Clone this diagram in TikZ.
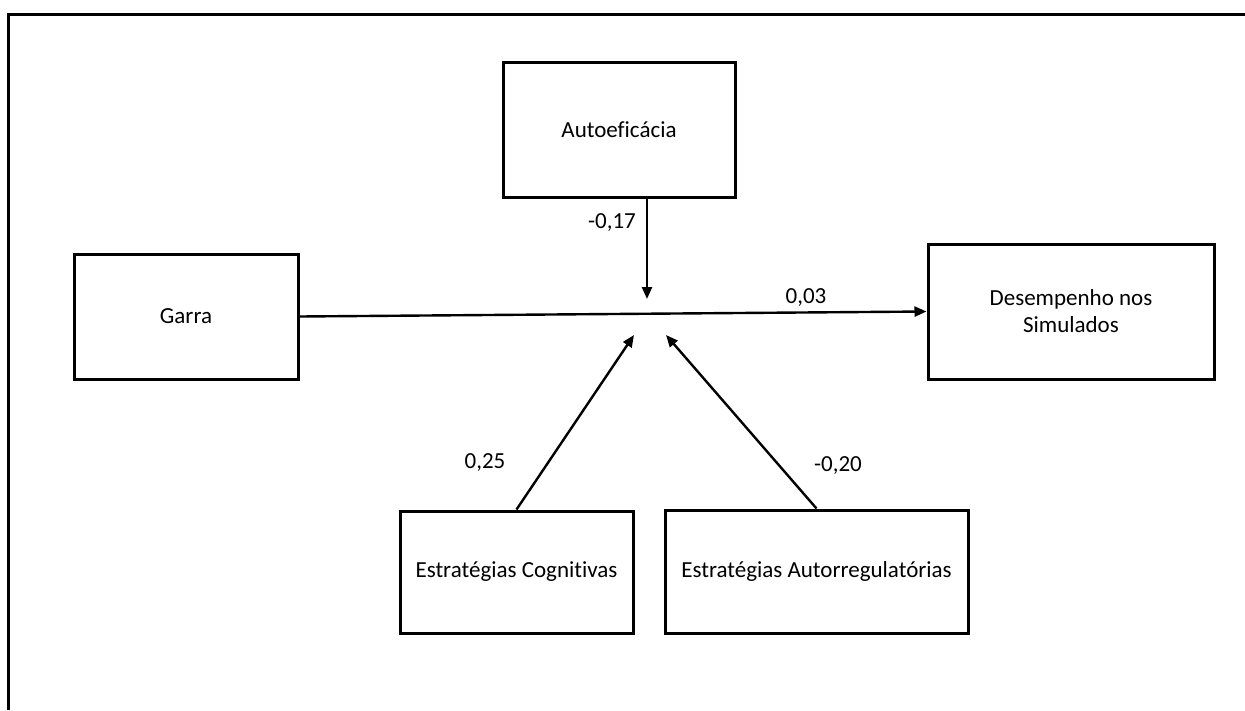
\documentclass[tikz,border=0pt]{standalone}
\usepackage{fontspec}
\setmainfont[Ligatures={NoCommon}]{Carlito}
\usetikzlibrary{arrows.meta}
\begin{document}
\begin{tikzpicture}[x=1pt,y=-1pt,
  box/.style={draw=black,line width=3pt,fill=white,inner sep=0pt,align=center,
    font=\fontsize{23}{27}\selectfont},
  conn/.style={draw=black,line width=2.4pt,-{Triangle[length=12pt,width=10pt]}},
  lbl/.style={inner sep=0pt,font=\fontsize{23}{27}\selectfont}]
\useasboundingbox (0,0) rectangle (1245,710);
\draw[line width=3pt] (8,710) -- (8,14) -- (1245,14);
\node[box,minimum width=224pt,minimum height=125pt] (garra) at (186,316.5) {Garra};
\node[box,minimum width=232pt,minimum height=135pt] (autoef) at (619,129.5) {Autoeficácia};
\node[box,minimum width=286pt,minimum height=135pt] (desemp) at (1071,311.5) {Desempenho nos\\Simulados};
\node[box,minimum width=233pt,minimum height=122pt] (cog) at (516.5,572) {Estratégias Cognitivas};
\node[box,minimum width=303pt,minimum height=123pt] (aut) at (816.5,571.5) {Estratégias Autorregulatórias};
\coordinate (tipA) at (647,299);
\coordinate (tipC) at (634,335);
\coordinate (tipR) at (666,335);
\draw[conn] (garra.east) -- (desemp.west);
\draw[conn] ([xshift=28pt]autoef.south) -- (tipA);
\draw[conn] (cog.north) -- (tipC);
\draw[conn] (aut.north) -- (tipR);
\node[lbl] (l1) at (612,223) {-0,17};
\node[lbl] (l2) at (806,298) {0,03};
\node[lbl] (l3) at (485,463) {0,25};
\node[lbl] (l4) at (838,465) {-0,20};
\end{tikzpicture}
\end{document}
